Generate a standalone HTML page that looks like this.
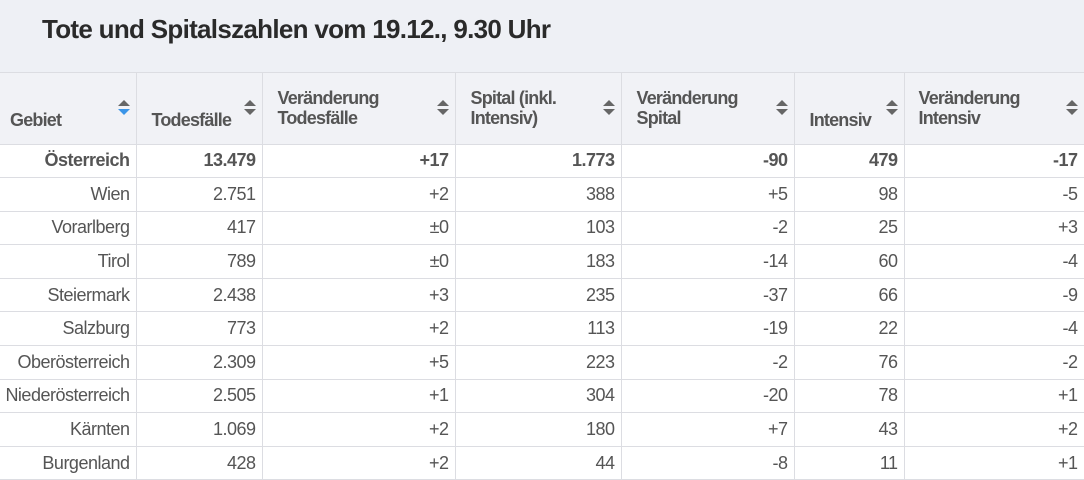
<!DOCTYPE html>
<html><head><meta charset="utf-8"><style>
body{margin:0;width:1084px;height:476px;overflow:hidden;background:#fff;font-family:"Liberation Sans",sans-serif;}
.title{height:73px;background:#eef0f5;border-bottom:1px solid #dcdde2;box-sizing:border-box;}
.title h1{margin:0;position:absolute;left:42px;top:14px;font-size:26px;font-weight:bold;color:#2a2a2a;letter-spacing:-0.7px;}
table{border-collapse:collapse;table-layout:fixed;width:1090px;position:absolute;top:73px;left:0;}
th{background:#f1f2f6;height:71px;box-sizing:border-box;border-right:1px solid #dcdde2;border-bottom:1px solid #dcdde2;text-align:left;vertical-align:middle;font-size:18px;color:#555;padding:0 30px 0 15px;position:relative;line-height:20px;font-weight:bold;letter-spacing:-0.8px;}
th.b{padding-top:24px;}
th .s{position:absolute;right:12px;top:27px;width:0;height:0;}
th .s:before{content:"";position:absolute;left:-6px;top:0;border:6px solid transparent;border-top:0;border-bottom:6px solid #666;}
th .s:after{content:"";position:absolute;left:-6px;top:9px;border:6px solid transparent;border-bottom:0;border-top:6px solid #666;}
th .s.blue:after{border-top-color:#3b95e8;}
td{height:33.6px;box-sizing:border-box;border-right:1px solid #dcdde2;border-bottom:1px solid #dcdde2;text-align:right;font-size:18px;color:#555;padding:0 6px 0 0;letter-spacing:-0.5px;white-space:nowrap;}
tr.o td{font-weight:bold;}
</style></head><body>
<div class="title"><h1>Tote und Spitalszahlen vom 19.12., 9.30 Uhr</h1></div>
<table>
<colgroup><col style="width:136px"><col style="width:126px"><col style="width:193px"><col style="width:166px"><col style="width:173px"><col style="width:110px"><col style="width:186px"></colgroup>
<tr><th class="b" style="padding-left:10px">Gebiet<span class="s blue"></span></th><th class="b">Todesfälle<span class="s"></span></th><th>Veränderung<br>Todesfälle<span class="s"></span></th><th>Spital (inkl.<br>Intensiv)<span class="s"></span></th><th>Veränderung<br>Spital<span class="s"></span></th><th class="b">Intensiv<span class="s"></span></th><th style="padding-left:14px">Veränderung<br>Intensiv<span class="s" style="right:18px"></span></th></tr>
<tr class="o"><td>Österreich</td><td>13.479</td><td>+17</td><td>1.773</td><td>-90</td><td>479</td><td style="padding-right:12px">-17</td></tr>
<tr><td>Wien</td><td>2.751</td><td>+2</td><td>388</td><td>+5</td><td>98</td><td style="padding-right:12px">-5</td></tr>
<tr><td>Vorarlberg</td><td>417</td><td>±0</td><td>103</td><td>-2</td><td>25</td><td style="padding-right:12px">+3</td></tr>
<tr><td>Tirol</td><td>789</td><td>±0</td><td>183</td><td>-14</td><td>60</td><td style="padding-right:12px">-4</td></tr>
<tr><td>Steiermark</td><td>2.438</td><td>+3</td><td>235</td><td>-37</td><td>66</td><td style="padding-right:12px">-9</td></tr>
<tr><td>Salzburg</td><td>773</td><td>+2</td><td>113</td><td>-19</td><td>22</td><td style="padding-right:12px">-4</td></tr>
<tr><td>Oberösterreich</td><td>2.309</td><td>+5</td><td>223</td><td>-2</td><td>76</td><td style="padding-right:12px">-2</td></tr>
<tr><td>Niederösterreich</td><td>2.505</td><td>+1</td><td>304</td><td>-20</td><td>78</td><td style="padding-right:12px">+1</td></tr>
<tr><td>Kärnten</td><td>1.069</td><td>+2</td><td>180</td><td>+7</td><td>43</td><td style="padding-right:12px">+2</td></tr>
<tr><td>Burgenland</td><td>428</td><td>+2</td><td>44</td><td>-8</td><td>11</td><td style="padding-right:12px">+1</td></tr>
</table>
</body></html>
